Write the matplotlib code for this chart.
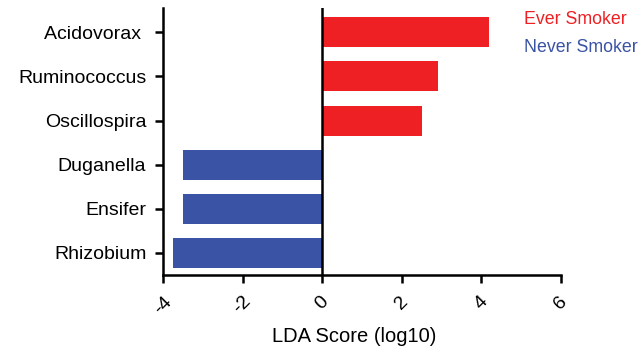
import matplotlib.pyplot as plt

plt.rcParams['font.family'] = ['Liberation Sans', 'DejaVu Sans']

genera = ['Acidovorax ', 'Ruminococcus', 'Oscillospira', 'Duganella', 'Ensifer', 'Rhizobium']
lda_scores = [4.2, 2.91, 2.51, -3.49, -3.49, -3.74]
groups = ['Ever Smoker', 'Ever Smoker', 'Ever Smoker', 'Never Smoker', 'Never Smoker', 'Never Smoker']
group_colors = {'Ever Smoker': '#EE2024', 'Never Smoker': '#3A53A4'}
x_ticks = [-4, -2, 0, 2, 4, 6]

fig = plt.figure(figsize=(6.39, 3.48), dpi=100)
ax = fig.add_axes([0.255, 0.210, 0.623, 0.767])

ypos = list(range(len(genera)))[::-1]
ax.barh(ypos, lda_scores, height=0.68, color=[group_colors[g] for g in groups])
ax.axvline(0, color='black', lw=1.8, zorder=3)

ax.set_xlim(-4, 6)
ax.set_ylim(-0.5, 5.55)
ax.set_xticks(x_ticks)
ax.set_xticklabels([str(t) for t in x_ticks], rotation=45, ha='center', va='top')
ax.set_yticks(ypos)
ax.set_yticklabels(genera)
ax.tick_params(axis='both', labelsize=14, width=1.8, length=6, color='black')
ax.tick_params(axis='y', pad=6)
ax.tick_params(axis='x', pad=7)

for side in ['top', 'right']:
    ax.spines[side].set_visible(False)
for side in ['left', 'bottom']:
    ax.spines[side].set_linewidth(1.8)

ax.set_xlabel('LDA Score (log10)', fontsize=14.5, va='center')
ax.xaxis.set_label_coords(0.48, -0.232)

fig.text(524 / 639, 1 - 19 / 348, 'Ever Smoker', color=group_colors['Ever Smoker'],
         fontsize=12.8, va='center', ha='left')
fig.text(524 / 639, 1 - 48 / 348, 'Never Smoker', color=group_colors['Never Smoker'],
         fontsize=12.8, va='center', ha='left')

fig.savefig('out.png', dpi=100)
